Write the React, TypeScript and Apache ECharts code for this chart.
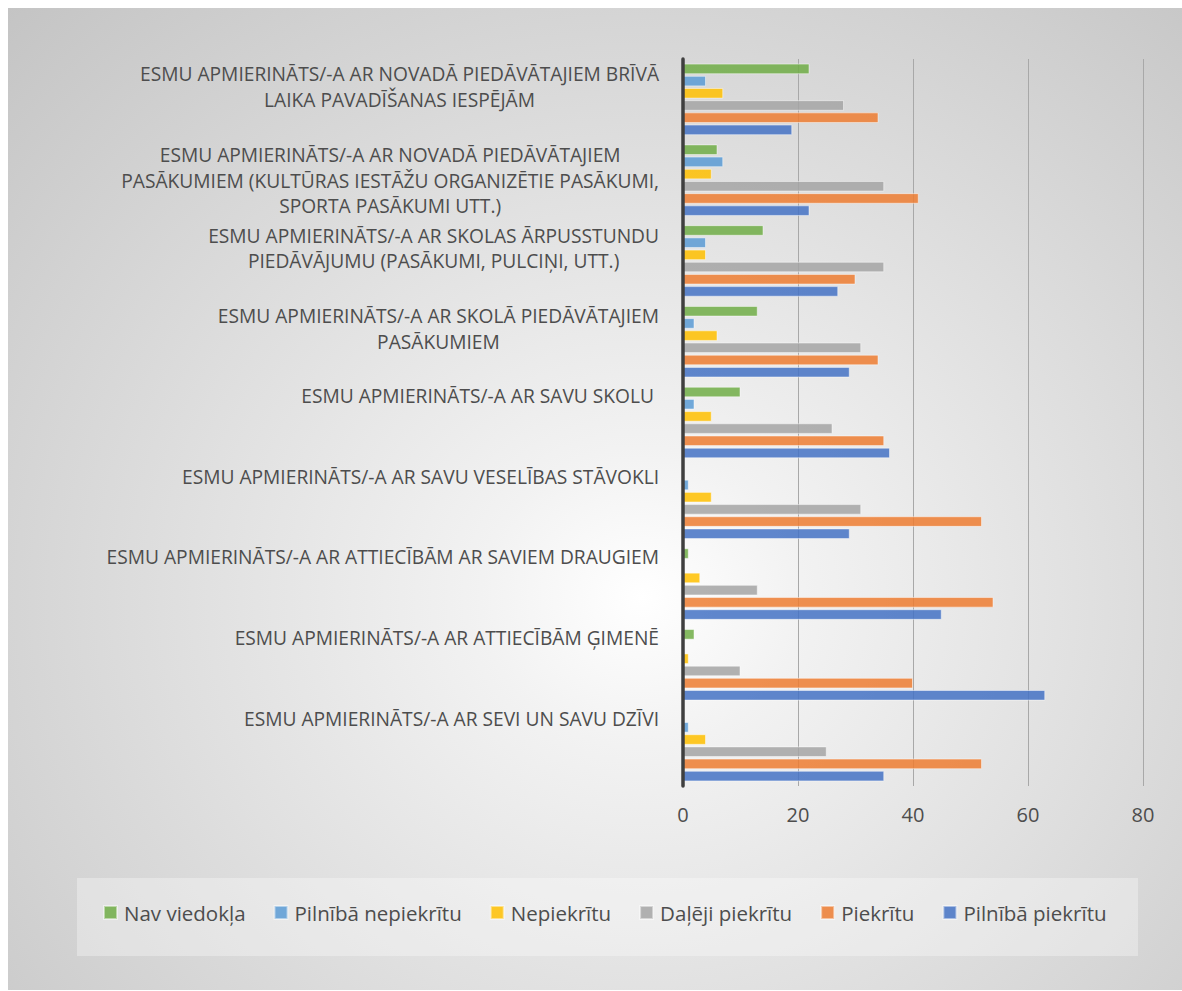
import React, { useEffect, useRef } from 'react';
import * as echarts from 'echarts';

// Categories, top to bottom as in the reference (\n = line break of the label)
const categories = [
  'ESMU APMIERINĀTS/-A AR NOVADĀ PIEDĀVĀTAJIEM BRĪVĀ\nLAIKA PAVADĪŠANAS IESPĒJĀM',
  'ESMU APMIERINĀTS/-A AR NOVADĀ PIEDĀVĀTAJIEM\nPASĀKUMIEM (KULTŪRAS IESTĀŽU ORGANIZĒTIE PASĀKUMI,\nSPORTA PASĀKUMI UTT.)',
  'ESMU APMIERINĀTS/-A AR SKOLAS ĀRPUSSTUNDU\nPIEDĀVĀJUMU (PASĀKUMI, PULCIŅI, UTT.)',
  'ESMU APMIERINĀTS/-A AR SKOLĀ PIEDĀVĀTAJIEM\nPASĀKUMIEM',
  'ESMU APMIERINĀTS/-A AR SAVU SKOLU ',
  'ESMU APMIERINĀTS/-A AR SAVU VESELĪBAS STĀVOKLI',
  'ESMU APMIERINĀTS/-A AR ATTIECĪBĀM AR SAVIEM DRAUGIEM',
  'ESMU APMIERINĀTS/-A AR ATTIECĪBĀM ĢIMENĒ',
  'ESMU APMIERINĀTS/-A AR SEVI UN SAVU DZĪVI',
];

const seriesNames = [
  'Nav viedokļa',
  'Pilnībā nepiekrītu',
  'Nepiekrītu',
  'Daļēji piekrītu',
  'Piekrītu',
  'Pilnībā piekrītu',
];

const navViedokla = [22, 6, 14, 13, 10, 0, 1, 2, 0];
const pilnibaNepiekritu = [4, 7, 4, 2, 2, 1, 0, 0, 1];
const nepiekritu = [7, 5, 4, 6, 5, 5, 3, 1, 4];
const dalejiPiekritu = [28, 35, 35, 31, 26, 31, 13, 10, 25];
const piekritu = [34, 41, 30, 34, 35, 52, 54, 40, 52];
const pilnibaPiekritu = [19, 22, 27, 29, 36, 29, 45, 63, 35];

const xTicks = [0, 20, 40, 60, 80];

const seriesColors = ['#70AD47', '#5B9BD5', '#FFC000', '#A5A5A5', '#ED7D31', '#4472C4'];
const seriesData = [navViedokla, pilnibaNepiekritu, nepiekritu, dalejiPiekritu, piekritu, pilnibaPiekritu];

const FONT = '"Open Sans", sans-serif';
const TEXT = '#4d4d4d';

export default function App() {
  const ref = useRef<HTMLDivElement>(null);

  useEffect(() => {
    if (!ref.current) return;
    const chart = echarts.init(ref.current, undefined, { renderer: 'svg' });
    const LH = 25.5;
    const option = {
      animation: false,
      backgroundColor: 'transparent',
      textStyle: { fontFamily: FONT },
      graphic: [
        {
          type: 'rect',
          z: -1,
          silent: true,
          shape: { x: 69, y: 870, width: 1061, height: 78 },
          style: { fill: 'rgba(255,255,255,0.32)' },
        },
      ],
      grid: { left: 675, top: 51, right: 39, bottom: 204, containLabel: false },
      legend: {
        data: seriesNames,
        left: 95,
        top: 894,
        padding: 0,
        itemWidth: 13,
        itemHeight: 13,
        itemGap: 28,
        icon: 'rect',
        textStyle: { fontSize: 20.5, color: TEXT, fontFamily: FONT, padding: [0, 0, 0, 2] },
      },
      xAxis: {
        type: 'value',
        min: xTicks[0],
        max: xTicks[xTicks.length - 1],
        interval: 20,
        axisLine: { show: false },
        axisTick: { show: false },
        splitLine: { show: true, lineStyle: { color: '#a8a8a8', width: 1 } },
        axisLabel: { fontSize: 20, color: TEXT, fontFamily: FONT, margin: 18 },
      },
      yAxis: {
        type: 'category',
        inverse: true,
        z: 10,
        data: categories,
        axisLine: { show: true, lineStyle: { color: '#3f3f3f', width: 3.5 } },
        axisTick: { show: false },
        splitLine: { show: false },
        axisLabel: {
          interval: 0,
          margin: 24,
          align: 'right',
          formatter: (value: string) => {
            const lines = value.split('\n');
            const body = lines.map((l) => `{c|${l}}`).join('\n');
            return lines.length < 3 ? body + `\n{s${lines.length}| }` : body;
          },
          rich: {
            c: { align: 'center', fontSize: 19.2, fontFamily: FONT, color: TEXT, lineHeight: LH },
            s1: { lineHeight: 80 - LH, fontSize: 1 },
            s2: { lineHeight: 26, fontSize: 1 },
          },
        },
      },
      series: seriesNames.map((name, i) => ({
        name,
        type: 'bar',
        data: seriesData[i],
        barWidth: 10.6,
        barGap: '15%',
        itemStyle: {
          color: seriesColors[i],
          opacity: 0.85,
          borderColor: 'rgba(255,255,255,0.55)',
          borderWidth: 1,
        },
      })),
    };
    chart.setOption(option as any);
    return () => chart.dispose();
  }, []);

  return (
    <div
      ref={ref}
      style={{
        position: 'absolute',
        left: 8,
        top: 8,
        width: 1174,
        height: 982,
        background:
          'radial-gradient(ellipse farthest-corner at 54% 60%, #ffffff 0%, #f2f2f2 18%, #c4c4c4 100%)',
      }}
    />
  );
}
